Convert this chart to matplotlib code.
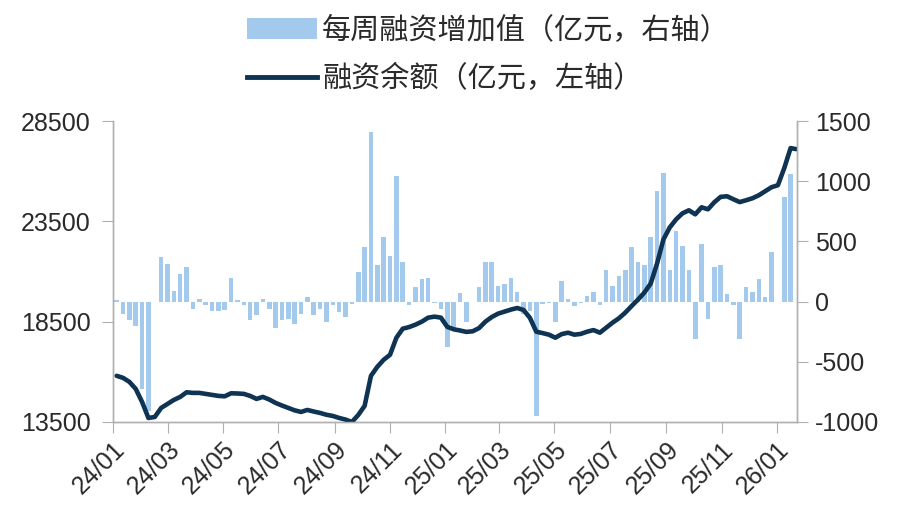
import numpy as np
import pandas as pd
import matplotlib
matplotlib.use("Agg")
import matplotlib.pyplot as plt
import matplotlib.dates as mdates
from matplotlib.patches import Patch
from matplotlib.lines import Line2D

plt.rcParams['font.family'] = ['Liberation Sans', 'Noto Sans CJK SC', 'DejaVu Sans']
plt.rcParams['axes.unicode_minus'] = False

# weekly net financing change (100m yuan, right axis), Fridays from 2024-01-05
weekly_change = [
    15, -100, -150, -200, -725, -905, 0, 374, 313, 91,
    230, 285, -60, 20, -30, -75, -75, -70, 200, 15,
    -30, -150, -110, 20, -60, -220, -150, -145, -185, -100,
    40, -115, -60, -170, -30, -90, -130, -20, 243, 450,
    1405, 300, 540, 382, 1046, 327, -30, 120, 188, 200,
    -15, -60, -380, -227, 70, -172, 0, 120, 327, 327,
    133, 147, 200, 78, -100, -75, -950, -20, -10, -172,
    172, 20, -40, -10, 50, 78, -30, 263, 133, 216,
    263, 450, 327, 300, 540, 922, 1066, 263, 590, 465,
    263, -310, 480, -145, 285, 300, 64, -30, -310, 120,
    78, 188, 36, 410, -5, 867, 1060,
]

# financing balance (100m yuan, left axis)
balance = [
    15800, 15700, 15500, 15150, 14500, 13700, 13750, 14200, 14400, 14600,
    14750, 14980, 14950, 14950, 14900, 14850, 14800, 14780, 14930, 14920,
    14900, 14800, 14650, 14750, 14620, 14450, 14320, 14200, 14080, 14000,
    14100, 14020, 13950, 13860, 13800, 13700, 13620, 13500, 13850, 14300,
    15800, 16250, 16600, 16850, 17700, 18150, 18230, 18350, 18500, 18700,
    18750, 18700, 18240, 18120, 18060, 17990, 18020, 18180, 18500, 18730,
    18900, 19000, 19100, 19180, 19080, 18690, 18000, 17930, 17850, 17700,
    17880, 17950, 17850, 17890, 18000, 18080, 17950, 18200, 18450, 18670,
    18950, 19280, 19600, 19950, 20400, 21400, 22600, 23200, 23600, 23900,
    24050, 23850, 24200, 24100, 24450, 24720, 24750, 24600, 24460, 24550,
    24650, 24800, 25000, 25200, 25300, 26150, 27150, 27100,
]

bar_dates = pd.date_range('2024-01-05', periods=len(weekly_change), freq='7D')
line_dates = list(bar_dates) + [pd.Timestamp('2026-01-22')]

left_ticks = [13500, 18500, 23500, 28500]
right_ticks = [-1000, -500, 0, 500, 1000, 1500]

bar_color = '#a3c9ec'
line_color = '#0f3352'
axis_color = '#b0b0b0'

fig = plt.figure(figsize=(8.99, 5.2), dpi=100)
ax = fig.add_axes([0.1257, 0.1885, 0.7608, 0.5788])
ax2 = ax.twinx()

ax2.bar(bar_dates, weekly_change, width=5, color=bar_color, edgecolor='none')
ax.plot(line_dates, balance, color=line_color, lw=3.3, solid_capstyle='round')

ax.set_zorder(ax2.get_zorder() + 1)
ax.patch.set_visible(False)

ax.set_ylim(13500, 28500)
ax.set_yticks(left_ticks)
ax2.set_ylim(-1000, 1500)
ax2.set_yticks(right_ticks)
ax.set_xlim(pd.Timestamp('2024-01-01'), pd.Timestamp('2026-01-23'))
ax.xaxis.set_major_locator(mdates.MonthLocator(bymonth=[1, 3, 5, 7, 9, 11]))
ax.xaxis.set_major_formatter(mdates.DateFormatter('%y/%m'))

for a in (ax, ax2):
    a.spines['top'].set_visible(False)
    for s in ('left', 'right', 'bottom'):
        a.spines[s].set_color(axis_color)
        a.spines[s].set_linewidth(1.0)
    a.tick_params(colors=axis_color, labelcolor='#2a2a2a', labelsize=18, length=8)

ax.tick_params(axis='y', pad=8)
ax2.tick_params(axis='y', pad=5)
ax.tick_params(axis='x', pad=3)
for lbl in ax.get_xticklabels():
    lbl.set_rotation(45)
    lbl.set_ha('right')
    lbl.set_rotation_mode('anchor')

handles = [Patch(facecolor=bar_color, edgecolor='none'),
           Line2D([0], [0], color=line_color, lw=3.5)]
labels = ['每周融资增加值（亿元，右轴）', '融资余额（亿元，左轴）']
fig.legend(handles, labels, loc='upper left', bbox_to_anchor=(0.245, 1.02),
           frameon=False, prop={'family': ['Noto Sans CJK SC', 'DejaVu Sans'], 'size': 21},
           handlelength=2.4, handleheight=0.7, handletextpad=0.2, labelspacing=0.62,
           labelcolor='#2a2a2a')

fig.savefig('out.png', dpi=100)
